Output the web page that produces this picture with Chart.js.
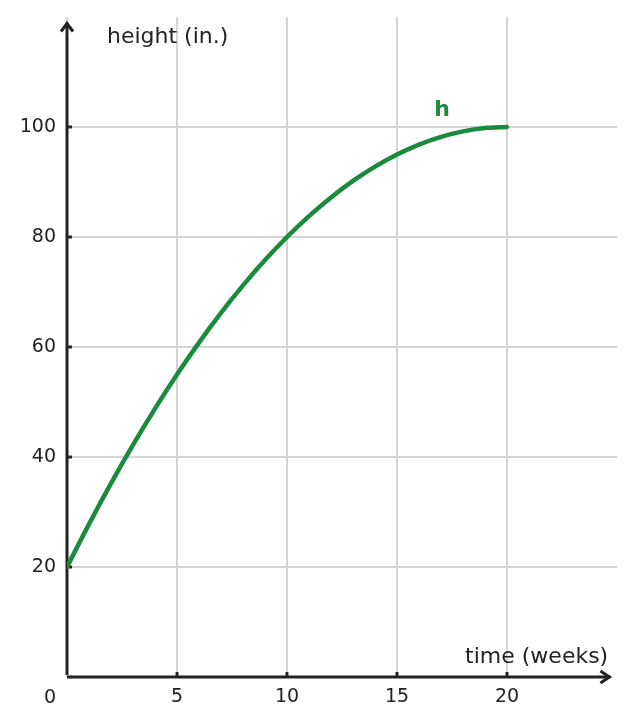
<!DOCTYPE html>
<html>
<head>
<meta charset="utf-8">
<script src="https://cdn.jsdelivr.net/npm/chart.js@4"></script>
<style>
  html, body { margin: 0; padding: 0; background: #fff; }
  #wrap { width: 634px; height: 725px; }
</style>
</head>
<body>
<div id="wrap"><canvas id="c" width="634" height="725"></canvas></div>
<script>
// Data
const weeks = [0, 1, 2, 3, 4, 5, 6, 7, 8, 9, 10, 11, 12, 13, 14, 15, 16, 17, 18, 19, 20];
const heights = [20, 27.8, 35.2, 42.2, 48.8, 55, 60.8, 66.2, 71.2, 75.8, 80, 83.8, 87.2, 90.2, 92.8, 95, 96.8, 98.2, 99.2, 99.8, 100];
const xTickLabels = [5, 10, 15, 20];
const yTickLabels = [20, 40, 60, 80, 100];
const xTitle = 'time (weeks)';
const yTitle = 'height (in.)';
const seriesName = 'h';

const FONT = '"DejaVu Sans", Verdana, sans-serif';
const INK = '#222222';
const GREEN = '#1a8a3c';
const GRID = '#d4d4d4';

const points = weeks.map((w, i) => ({ x: w, y: heights[i] }));

const axesPlugin = {
  id: 'axesPlugin',
  beforeDatasetsDraw(chart) {
    const ctx = chart.ctx;
    const xs = chart.scales.x, ys = chart.scales.y;
    const x0 = xs.getPixelForValue(0);
    const y0 = ys.getPixelForValue(0);
    const yTop = ys.getPixelForValue(119);
    const xEnd = xs.getPixelForValue(24.7);
    ctx.save();
    ctx.strokeStyle = INK;
    ctx.lineWidth = 3;
    ctx.lineCap = 'butt';
    // y axis
    ctx.beginPath();
    ctx.moveTo(x0, y0 - 2);
    ctx.lineTo(x0, yTop);
    ctx.stroke();
    // y arrow
    ctx.beginPath();
    ctx.lineJoin = 'miter';
    ctx.moveTo(x0 - 6, yTop + 9);
    ctx.lineTo(x0, yTop + 1);
    ctx.lineTo(x0 + 6, yTop + 9);
    ctx.stroke();
    // x axis
    ctx.beginPath();
    ctx.moveTo(x0 + 4, y0);
    ctx.lineTo(xEnd, y0);
    ctx.stroke();
    ctx.beginPath();
    ctx.moveTo(xEnd - 10, y0 - 6);
    ctx.lineTo(xEnd - 1, y0);
    ctx.lineTo(xEnd - 10, y0 + 6);
    ctx.stroke();
    // y ticks (inward)
    [0].concat(yTickLabels).forEach(v => {
      const p = ys.getPixelForValue(v);
      ctx.beginPath();
      ctx.moveTo(x0, p);
      ctx.lineTo(x0 + 5, p);
      ctx.stroke();
    });
    // x ticks (inward)
    xTickLabels.forEach(v => {
      const p = xs.getPixelForValue(v);
      ctx.beginPath();
      ctx.moveTo(p, y0);
      ctx.lineTo(p, y0 - 5);
      ctx.stroke();
    });
    ctx.restore();
  },
  afterDraw(chart) {
    const ctx = chart.ctx;
    const xs = chart.scales.x, ys = chart.scales.y;
    const x0 = xs.getPixelForValue(0);
    const y0 = ys.getPixelForValue(0);
    ctx.save();
    ctx.fillStyle = INK;
    ctx.textBaseline = 'alphabetic';
    ctx.font = '22px ' + FONT;
    ctx.textAlign = 'left';
    ctx.fillText(yTitle, x0 + 40, ys.getPixelForValue(115.3));
    ctx.textAlign = 'right';
    ctx.fillText(xTitle, xs.getPixelForValue(24.6), y0 - 14);
    ctx.font = '19px ' + FONT;
    ctx.textAlign = 'center';
    ctx.fillText('0', x0 - 17, y0 + 26);
    ctx.fillStyle = GREEN;
    ctx.font = 'bold 22px ' + FONT;
    ctx.fillText(seriesName, xs.getPixelForValue(17.05), ys.getPixelForValue(102));
    ctx.restore();
  }
};

new Chart(document.getElementById('c'), {
  type: 'scatter',
  data: {
    datasets: [{
      label: seriesName,
      data: points,
      showLine: true,
      borderColor: GREEN,
      borderWidth: 4.5,
      pointRadius: 0,
      borderCapStyle: 'round',
      cubicInterpolationMode: 'monotone',
      fill: false
    }]
  },
  options: {
    responsive: false,
    animation: false,
    devicePixelRatio: 1,
    layout: { autoPadding: false, padding: { top: 17, right: 17, left: 0, bottom: 0 } },
    plugins: { legend: { display: false }, tooltip: { enabled: false } },
    scales: {
      x: {
        type: 'linear',
        min: 0, max: 25,
        afterFit(s) { s.height = 48; s.paddingLeft = 0; s.paddingRight = 0; },
        border: { display: false },
        grid: {
          drawTicks: false,
          lineWidth: 2,
          color: c => (c.tick && (c.tick.value === 25)) ? 'rgba(0,0,0,0)' : GRID
        },
        ticks: {
          stepSize: 5,
          padding: 9,
          color: INK,
          font: { family: FONT, size: 19 },
          maxRotation: 0,
          callback: v => xTickLabels.includes(v) ? String(v) : ''
        }
      },
      y: {
        min: 0, max: 120,
        afterFit(s) { s.width = 67; s.paddingTop = 0; s.paddingBottom = 0; },
        border: { display: false },
        grid: {
          drawTicks: false,
          lineWidth: 2,
          color: c => (c.tick && (c.tick.value === 0 || c.tick.value === 120)) ? 'rgba(0,0,0,0)' : GRID
        },
        ticks: {
          stepSize: 20,
          padding: 11,
          color: INK,
          font: { family: FONT, size: 19 },
          callback: v => yTickLabels.includes(v) ? String(v) : ''
        }
      }
    }
  },
  plugins: [axesPlugin]
});
</script>
</body>
</html>
